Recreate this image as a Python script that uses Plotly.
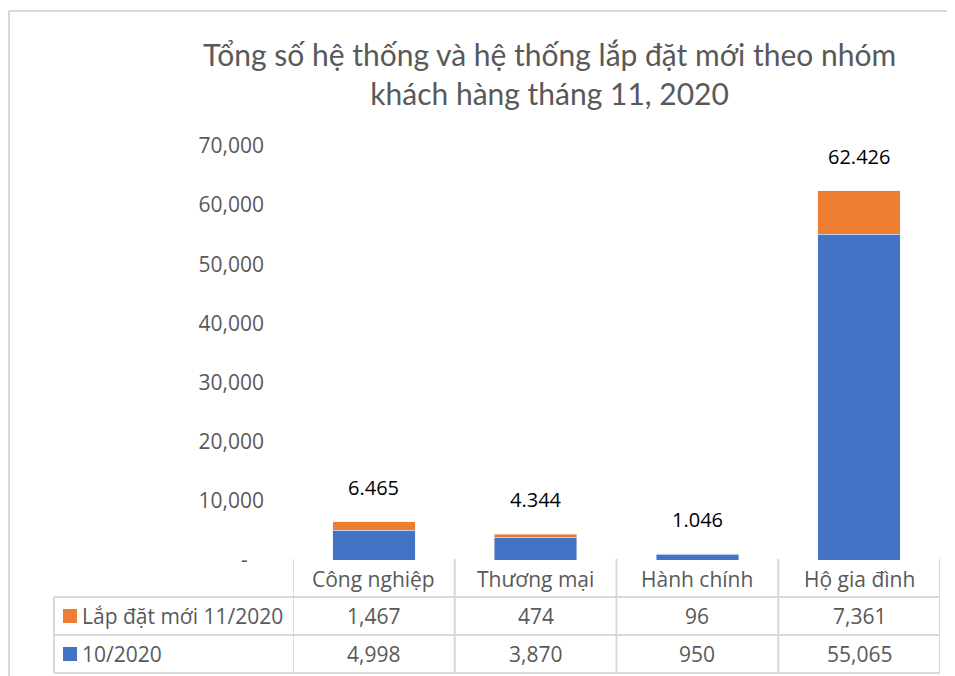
import plotly.graph_objects as go

# data
categories = ['Công nghiệp', 'Thương mại', 'Hành chính', 'Hộ gia đình']
series_names = ['Lắp đặt mới 11/2020', '10/2020']
new_nov = [1467, 474, 96, 7361]
base_oct = [4998, 3870, 950, 55065]
y_ticks = [0, 10000, 20000, 30000, 40000, 50000, 60000, 70000]

ORANGE = '#ED7D31'
BLUE = '#4472C4'
GRAY_TXT = '#595959'
GRID = '#D9D9D9'
FONT = 'Open Sans'

W, H = 955, 676
OFF = 8  # page body margin, positions below are in screen pixels
def px(x):
    return (x - OFF) / W
def py(y):
    return 1 - (y - OFF) / H

totals = [a + b for a, b in zip(new_nov, base_oct)]

fig = go.Figure()
fig.add_trace(go.Bar(x=categories, y=base_oct, name=series_names[1], marker_color=BLUE,
                     width=0.51, hoverinfo='y'))
fig.add_trace(go.Bar(x=categories, y=new_nov, name=series_names[0], marker_color=ORANGE,
                     width=0.51, hoverinfo='y'))

ann = []
# title
ann.append(dict(text='Tổng số hệ thống và hệ thống lắp đặt mới theo nhóm<br>khách hàng tháng 11, 2020',
                x=px(549), y=py(74), xref='paper', yref='paper', showarrow=False,
                xanchor='center', yanchor='middle',
                font=dict(family='Lato', size=30, color=GRAY_TXT),
                align='center'))

# total labels above bars (vietnamese thousands separator)
for i, t in enumerate(totals):
    ann.append(dict(text=f'{t:,}'.replace(',', '.'), x=i, y=t, xref='x', yref='y',
                    yanchor='bottom', yshift=19, showarrow=False,
                    font=dict(family=FONT, size=20, color='black')))

# data table
row_y = [579, 616, 654]
cell_font = dict(family=FONT, size=21, color=GRAY_TXT)
for i, c in enumerate(categories):
    ann.append(dict(text=c, x=i, y=py(row_y[0]), xref='x', yref='paper', showarrow=False,
                    xanchor='center', yanchor='middle', font=cell_font))
    ann.append(dict(text=f'{new_nov[i]:,}', x=i, y=py(row_y[1]), xref='x', yref='paper',
                    xanchor='center', yanchor='middle', showarrow=False, font=cell_font))
    ann.append(dict(text=f'{base_oct[i]:,}', x=i, y=py(row_y[2]), xref='x', yref='paper',
                    xanchor='center', yanchor='middle', showarrow=False, font=cell_font))

shapes = []
line = dict(color=GRID, width=2)
for j, (name, col) in enumerate([(series_names[0], ORANGE), (series_names[1], BLUE)]):
    yc = row_y[j + 1]
    shapes.append(dict(type='rect', xref='paper', yref='paper', x0=px(63), x1=px(77),
                       y0=py(yc - 7), y1=py(yc + 7), fillcolor=col, line=dict(width=0)))
    ann.append(dict(text=name, x=px(80), y=py(yc), xref='paper', yref='paper', xanchor='left',
                    yanchor='middle', showarrow=False, font=cell_font))

# table grid
for xb in [-0.5, 0.5, 1.5, 2.5, 3.5]:
    shapes.append(dict(type='line', xref='x', yref='paper', x0=xb, x1=xb,
                       y0=py(559), y1=py(673), line=line))
shapes.append(dict(type='line', xref='paper', yref='paper', x0=px(54), x1=px(54),
                   y0=py(597), y1=py(673), line=line))
for yl in [597, 635, 673]:
    shapes.append(dict(type='line', xref='paper', yref='paper', x0=px(54), x1=px(940),
                       y0=py(yl), y1=py(yl), line=line))

# chart border (left and top edges visible)
shapes.append(dict(type='line', xref='paper', yref='paper', x0=px(9), x1=px(9),
                   y0=0, y1=py(11), line=dict(color=GRID, width=2)))
shapes.append(dict(type='line', xref='paper', yref='paper', x0=px(9), x1=1,
                   y0=py(11), y1=py(11), line=dict(color=GRID, width=2)))

fig.update_layout(
    width=W, height=H, margin=dict(l=0, r=0, t=0, b=0, pad=0),
    paper_bgcolor='white', plot_bgcolor='white',
    barmode='stack', showlegend=False, bargap=0.49,
    annotations=ann, shapes=shapes,
    xaxis=dict(domain=[px(293), px(940)], range=[-0.5, 3.5], showticklabels=False,
               showgrid=False, zeroline=False, showline=False, automargin=False),
    yaxis=dict(domain=[py(560), py(146)], range=[0, 70000], tickvals=y_ticks,
               ticktext=['-\u00a0\u00a0\u00a0'] + [f'{v:,}' for v in y_ticks[1:]],
               showgrid=False, zeroline=False, showline=False, ticks='',
               ticklabelstandoff=28, automargin=False,
               tickfont=dict(family=FONT, size=21, color=GRAY_TXT)),
)

fig.write_html('out.html')
